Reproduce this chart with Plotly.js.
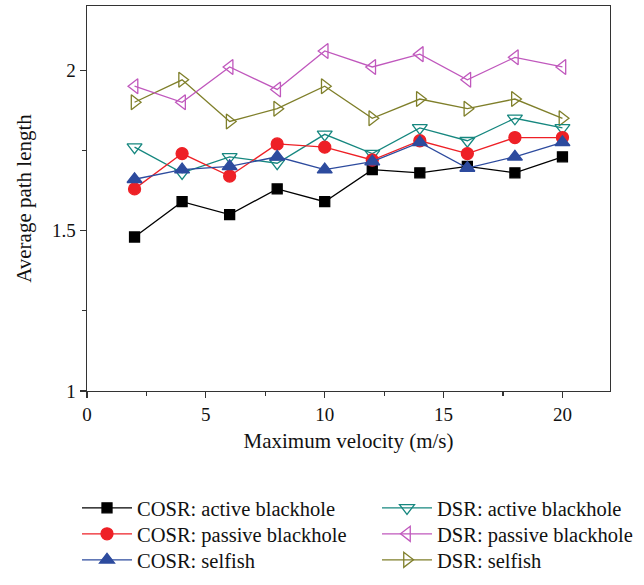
<!DOCTYPE html>
<html>
<head>
<meta charset="utf-8">
<script src="https://cdn.plot.ly/plotly-3.0.1.min.js"></script>
<style>html,body{margin:0;padding:0;background:#fff;}#chart{width:644px;height:585px;}</style>
</head>
<body>
<div id="chart"></div>
<script>
const velocity = [2, 4, 6, 8, 10, 12, 14, 16, 18, 20];
const cosrActive  = [1.48, 1.59, 1.55, 1.63, 1.59, 1.69, 1.68, 1.70, 1.68, 1.73];
const cosrPassive = [1.63, 1.74, 1.67, 1.77, 1.76, 1.72, 1.78, 1.74, 1.79, 1.79];
const cosrSelfish = [1.66, 1.69, 1.70, 1.73, 1.69, 1.715, 1.775, 1.695, 1.73, 1.775];
const dsrActive   = [1.76, 1.68, 1.73, 1.71, 1.80, 1.74, 1.82, 1.78, 1.85, 1.82];
const dsrPassive  = [1.95, 1.90, 2.01, 1.94, 2.06, 2.01, 2.05, 1.97, 2.04, 2.01];
const dsrSelfish  = [1.90, 1.97, 1.84, 1.88, 1.95, 1.85, 1.91, 1.88, 1.91, 1.85];
const seriesNames = ["COSR: active blackhole", "COSR: passive blackhole", "COSR: selfish",
                     "DSR: active blackhole", "DSR: passive blackhole", "DSR: selfish"];

const fam = "Liberation Serif, Times New Roman, serif";
const font = {family: fam, size: 21, color: "#111"};
const legFont = {family: fam, size: 20.5, color: "#111"};
const tickFont = {family: fam, size: 19, color: "#111"};
const plotL = 87, plotW = 523, plotB = 392, plotH = 386;

// legend slot: column left px, row centre px
const styles = [
  {c: "#000000", s: "square", z: 10, col: 77, row: 508},
  {c: "#ee2026", s: "circle", z: 12, col: 77, row: 534},
  {c: "#2d4b9e", s: "triangle-up", z: 13, col: 77, row: 560},
  {c: "#16877f", s: "triangle-down-open", z: 13, col: 377, row: 508},
  {c: "#c058bd", s: "triangle-left-open", z: 13, col: 377, row: 534},
  {c: "#7f7f2a", s: "triangle-right-open", z: 13, col: 377, row: 560}
];
const values = [cosrActive, cosrPassive, cosrSelfish, dsrActive, dsrPassive, dsrSelfish];
const legendIds = ["legend", "legend2", "legend3", "legend4", "legend5", "legend6"];
const drawOrder = [5, 4, 3, 0, 1, 2];
const traces = drawOrder.map(i => ({
  x: velocity, y: values[i], name: seriesNames[i], type: "scatter", mode: "lines+markers",
  line: {color: styles[i].c, width: 1.3},
  marker: {symbol: styles[i].s, size: styles[i].z, color: styles[i].c, line: {color: styles[i].c, width: 1.3}},
  legend: legendIds[i]
}));

const layout = {
  width: 644, height: 585,
  margin: {l: 87, r: 34, t: 6, b: 193},
  paper_bgcolor: "#fff", plot_bgcolor: "#fff",
  font: font,
  showlegend: true,
  xaxis: {range: [0, 22], tickvals: [0, 5, 10, 15, 20], ticks: "outside", ticklen: 6, tickwidth: 1.2,
          tickcolor: "#333", showline: true, linecolor: "#333", linewidth: 1.4, mirror: true,
          showgrid: false, zeroline: false, tickfont: tickFont,
          minor: {dtick: 2.5, ticks: "outside", ticklen: 4, tickwidth: 1.2, tickcolor: "#333", showgrid: false},
          title: {text: "Maximum velocity (m/s)", font: font, standoff: 9}},
  yaxis: {range: [1, 2.2], tickvals: [1, 1.5, 2], ticktext: ["1", "1.5", "2"], ticks: "outside", ticklen: 6,
          tickwidth: 1.2, tickcolor: "#333", showline: true, linecolor: "#333", linewidth: 1.4, mirror: true,
          showgrid: false, zeroline: false, tickfont: tickFont,
          minor: {dtick: 0.25, ticks: "outside", ticklen: 4, tickwidth: 1.2, tickcolor: "#333", showgrid: false},
          title: {text: "Average path length", font: font, standoff: 14}}
};
styles.forEach((st, i) => {
  layout[legendIds[i]] = {
    orientation: "v", xref: "paper", yref: "paper",
    x: (st.col - plotL) / plotW, xanchor: "left",
    y: (plotB - st.row) / plotH, yanchor: "middle",
    font: legFont, itemwidth: 50, bgcolor: "rgba(0,0,0,0)"
  };
});
Plotly.newPlot("chart", traces, layout, {displayModeBar: false, staticPlot: true});
</script>
</body>
</html>
